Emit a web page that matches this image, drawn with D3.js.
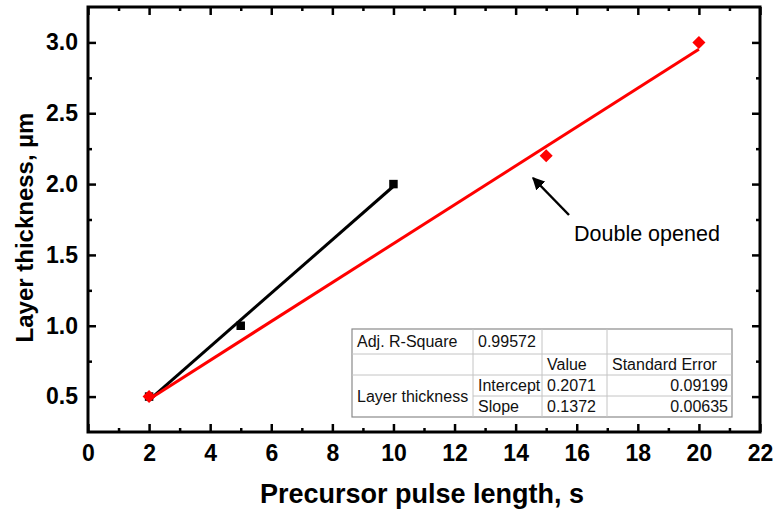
<!DOCTYPE html>
<html>
<head>
<meta charset="utf-8">
<script src="https://cdn.jsdelivr.net/npm/d3@7"></script>
<style>
  html, body { margin: 0; padding: 0; background: #fff; }
  svg { display: block; font-family: "Liberation Sans", Arial, sans-serif; }
</style>
</head>
<body>
<div id="chart"></div>
<script>
// data
const singleX = [2, 5, 10];
const singleY = [0.5, 1.0, 2.0];
const doubleX = [2, 15, 20];
const doubleY = [0.5, 2.2, 3.0];

const xTicks = [0, 2, 4, 6, 8, 10, 12, 14, 16, 18, 20, 22];
const xMinor = [1, 3, 5, 7, 9, 11, 13, 15, 17, 19, 21];
const yTicks = [0.5, 1.0, 1.5, 2.0, 2.5, 3.0];
const yMinor = [0.75, 1.25, 1.75, 2.25, 2.75];

// fit table text
const tableRow1 = ["Adj. R-Square", "0.99572", "", ""];
const tableHead = ["", "", "Value", "Standard Error"];
const tableGroup = "Layer thickness";
const tableParams = ["Intercept", "Slope"];
const tableValues = ["0.2071", "0.1372"];
const tableErrors = ["0.09199", "0.00635"];

const W = 773, H = 512;
const margin = { top: 7, right: 13, bottom: 80, left: 88 };

const svg = d3.select("#chart").append("svg")
  .attr("width", W)
  .attr("height", H);

const x = d3.scaleLinear().domain([0, 22]).range([margin.left, W - margin.right]);
const y = d3.scaleLinear().domain([0.25, 3.25]).range([H - margin.bottom, margin.top]);

// least squares line
function linFit(xs, ys) {
  const mx = d3.mean(xs), my = d3.mean(ys);
  let sxy = 0, sxx = 0;
  xs.forEach((v, i) => { sxy += (v - mx) * (ys[i] - my); sxx += (v - mx) * (v - mx); });
  const b = sxy / sxx;
  return { a: my - b * mx, b: b };
}

const pBottom = H - margin.bottom, pTop = margin.top;
const pLeft = margin.left, pRight = W - margin.right;

// axes: ticks inward on all four sides
function tickStyle(g) {
  g.select(".domain").remove();
  g.selectAll(".tick line").attr("stroke", "#000").attr("stroke-width", 2.5);
  g.selectAll(".tick text")
    .attr("fill", "#000")
    .style("font-size", "23px")
    .style("font-weight", "bold");
}

svg.append("g").attr("transform", `translate(0,${pBottom})`)
  .call(d3.axisBottom(x).tickValues(xTicks).tickSize(-8).tickPadding(13).tickFormat(d3.format("d")))
  .call(tickStyle);
svg.append("g").attr("transform", `translate(0,${pBottom})`)
  .call(d3.axisBottom(x).tickValues(xMinor).tickSize(-4).tickFormat(""))
  .call(tickStyle);
svg.append("g").attr("transform", `translate(0,${pTop})`)
  .call(d3.axisTop(x).tickValues(xTicks).tickSize(-8).tickFormat(""))
  .call(tickStyle);
svg.append("g").attr("transform", `translate(0,${pTop})`)
  .call(d3.axisTop(x).tickValues(xMinor).tickSize(-4).tickFormat(""))
  .call(tickStyle);

svg.append("g").attr("transform", `translate(${pLeft},0)`)
  .call(d3.axisLeft(y).tickValues(yTicks).tickSize(-8).tickPadding(10).tickFormat(d3.format(".1f")))
  .call(tickStyle);
svg.append("g").attr("transform", `translate(${pLeft},0)`)
  .call(d3.axisLeft(y).tickValues(yMinor).tickSize(-4).tickFormat(""))
  .call(tickStyle);
svg.append("g").attr("transform", `translate(${pRight},0)`)
  .call(d3.axisRight(y).tickValues(yTicks).tickSize(-8).tickFormat(""))
  .call(tickStyle);
svg.append("g").attr("transform", `translate(${pRight},0)`)
  .call(d3.axisRight(y).tickValues(yMinor).tickSize(-4).tickFormat(""))
  .call(tickStyle);

// frame
svg.append("rect")
  .attr("x", pLeft).attr("y", pTop)
  .attr("width", pRight - pLeft).attr("height", pBottom - pTop)
  .attr("fill", "none").attr("stroke", "#000").attr("stroke-width", 3);

// axis titles
svg.append("text")
  .attr("x", 422).attr("y", 503)
  .attr("text-anchor", "middle")
  .style("font-size", "27px").style("font-weight", "bold")
  .text("Precursor pulse length, s");

svg.append("text")
  .attr("transform", `translate(33,${(pTop + pBottom) / 2 + 8}) rotate(-90)`)
  .attr("text-anchor", "middle")
  .style("font-size", "24px").style("font-weight", "bold")
  .text("Layer thickness, µm");

// fit table
const colX = [352, 473, 542, 607, 732];
const rowY = [329, 354, 375, 396, 417];
const tbl = svg.append("g").style("font-size", "16px");

tbl.append("rect")
  .attr("x", colX[0]).attr("y", rowY[0])
  .attr("width", colX[4] - colX[0]).attr("height", rowY[4] - rowY[0])
  .attr("fill", "#fff").attr("stroke", "#8a8a8a").attr("stroke-width", 1.2);

const gridLines = [
  [colX[0], rowY[1], colX[4], rowY[1]],
  [colX[0], rowY[2], colX[4], rowY[2]],
  [colX[1], rowY[3], colX[4], rowY[3]],
  [colX[1], rowY[0], colX[1], rowY[4]],
  [colX[2], rowY[0], colX[2], rowY[4]],
  [colX[3], rowY[0], colX[3], rowY[4]]
];
tbl.selectAll("line.grid").data(gridLines).enter().append("line")
  .attr("class", "grid")
  .attr("x1", d => d[0]).attr("y1", d => d[1])
  .attr("x2", d => d[2]).attr("y2", d => d[3])
  .attr("stroke", "#c4c4c4").attr("stroke-width", 1);

function cell(txt, col, y0, y1, alignRight) {
  if (!txt) return;
  tbl.append("text")
    .attr("x", alignRight ? colX[col + 1] - 4 : colX[col] + 5)
    .attr("y", (y0 + y1) / 2 + 5.5)
    .attr("text-anchor", alignRight ? "end" : "start")
    .attr("fill", "#111")
    .text(txt);
}
tableRow1.forEach((t, i) => cell(t, i, rowY[0], rowY[1]));
tableHead.forEach((t, i) => cell(t, i, rowY[1], rowY[2]));
cell(tableGroup, 0, rowY[2], rowY[4]);
tableParams.forEach((t, i) => {
  cell(t, 1, rowY[2 + i], rowY[3 + i]);
  cell(tableValues[i], 2, rowY[2 + i], rowY[3 + i]);
  cell(tableErrors[i], 3, rowY[2 + i], rowY[3 + i], true);
});

// fit lines and points
function drawSeries(xs, ys, color, size, angle) {
  const f = linFit(xs, ys);
  const x0 = d3.min(xs), x1 = d3.max(xs);
  svg.append("line")
    .attr("x1", x(x0)).attr("y1", y(f.a + f.b * x0))
    .attr("x2", x(x1)).attr("y2", y(f.a + f.b * x1))
    .attr("stroke", color).attr("stroke-width", 3);
  svg.append("g").selectAll("path")
    .data(xs.map((v, i) => [v, ys[i]]))
    .enter().append("path")
    .attr("d", d3.symbol().type(d3.symbolSquare).size(size))
    .attr("transform", d => `translate(${x(d[0])},${y(d[1])}) rotate(${angle})`)
    .attr("fill", color);
}
drawSeries(singleX, singleY, "#000", 72, 0);
drawSeries(doubleX, doubleY, "#ff0000", 85, 45);

// annotation
const note = { text: "Double opened", tx: 574, ty: 241, ax0: 569, ay0: 215, ax1: 533, ay1: 178 };
svg.append("defs").append("marker")
  .attr("id", "head")
  .attr("viewBox", "0 0 10 10")
  .attr("refX", 9).attr("refY", 5)
  .attr("markerWidth", 5).attr("markerHeight", 5)
  .attr("markerUnits", "strokeWidth")
  .attr("orient", "auto")
  .append("path").attr("d", "M0,0 L10,5 L0,10 Z").attr("fill", "#000");
svg.append("line")
  .attr("x1", note.ax0).attr("y1", note.ay0)
  .attr("x2", note.ax1).attr("y2", note.ay1)
  .attr("stroke", "#000").attr("stroke-width", 2.5)
  .attr("marker-end", "url(#head)");
svg.append("text")
  .attr("x", note.tx).attr("y", note.ty)
  .style("font-size", "21.5px")
  .text(note.text);
</script>
</body>
</html>
